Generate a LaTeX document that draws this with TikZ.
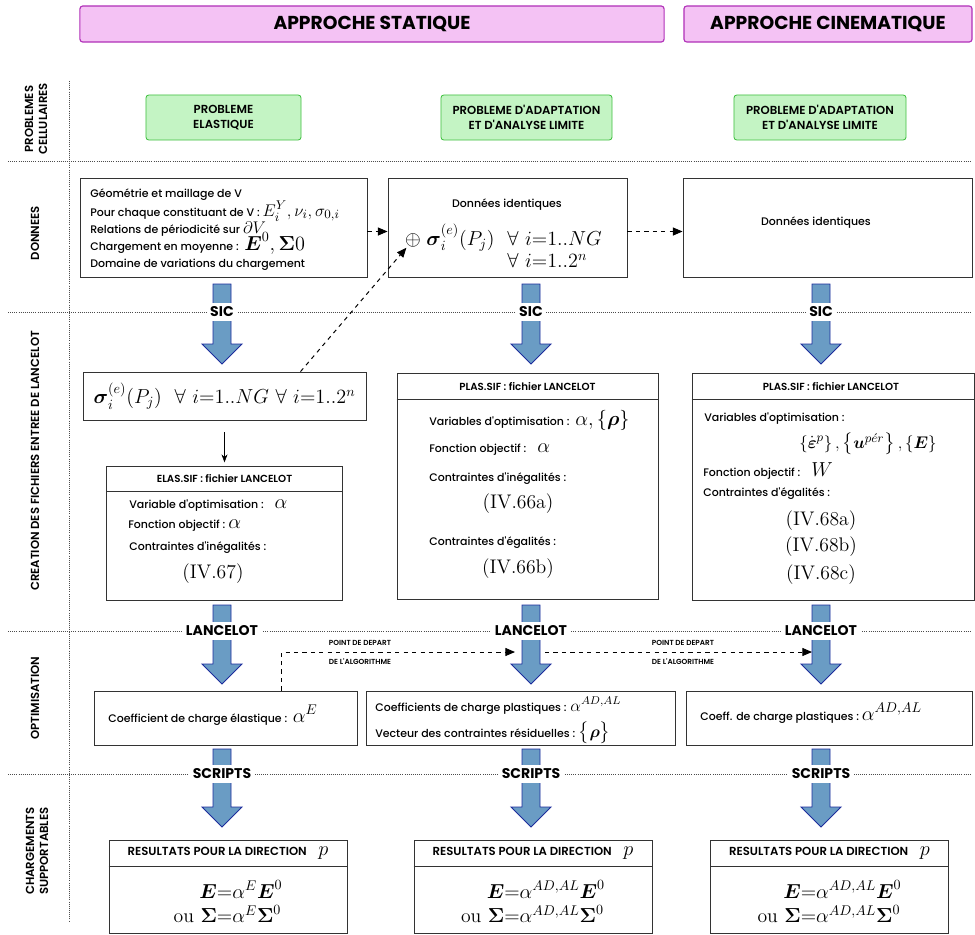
\documentclass[tikz,border=0pt]{standalone}
\usepackage{amsmath}
\usepackage{amssymb}
\usepackage[no-math]{fontspec}
\newfontfamily\gothic{Poppins}[UprightFont=* Medium, BoldFont=* SemiBold]
\newfontfamily\gothicgras{Poppins}[UprightFont=* Bold]
\usetikzlibrary{arrows.meta}

\definecolor{approchefill}{HTML}{F4C2F4}
\definecolor{approcheline}{HTML}{B030B8}
\definecolor{problemefill}{HTML}{C4F4C4}
\definecolor{problemeline}{HTML}{40C040}
\definecolor{flechefill}{HTML}{6A9CC4}
\definecolor{flecheline}{HTML}{1C2C9C}

\newcommand{\gm}[1]{{\fontsize{14}{16}\selectfont$#1$}}
\newcommand{\grossefleche}[3]{\draw[fleche] (#1-9,#2) -- (#1+9,#2) -- (#1+9,#3-20) -- (#1+20,#3-20) -- (#1,#3) -- (#1-20,#3-20) -- (#1-9,#3-20) -- cycle;}

\tikzset{
  approche/.style={draw=approcheline, fill=approchefill, line width=0.8pt, rounded corners=2pt, font=\gothicgras\fontsize{13.3}{15}\selectfont},
  probleme/.style={draw=problemeline, fill=problemefill, line width=0.6pt, rounded corners=2pt, align=center, font=\gothic\bfseries\fontsize{8.3}{11}\selectfont},
  rangee/.style={rotate=90, align=center, font=\gothic\bfseries\fontsize{8.3}{10}\selectfont},
  separe/.style={densely dotted, black!70, line width=0.5pt},
  cadre/.style={draw=black!80, line width=0.6pt},
  texte/.style={anchor=base west, inner sep=0pt, font=\gothic\fontsize{7.8}{9}\selectfont},
  centre/.style={texte, anchor=base},
  titre/.style={inner sep=0pt, font=\gothic\bfseries\fontsize{7.3}{9}\selectfont},
  formule/.style={inner sep=0pt, font=\fontsize{14}{16}\selectfont},
  fleche/.style={draw=flecheline, fill=flechefill, line width=0.6pt},
  etape/.style={fill=white, inner sep=2.5pt, font=\gothicgras\fontsize{10}{11}\selectfont},
  petit/.style={inner sep=0pt, font=\gothic\bfseries\fontsize{5.2}{6}\selectfont},
  pointille/.style={dashed, line width=0.7pt, -{Triangle[length=2.4mm,width=2mm]}},
}

\begin{document}
\begin{tikzpicture}[x=0.025cm, y=-0.025cm]
  \useasboundingbox (0,0) rectangle (975,935);

  % we draw the separators
  \draw[separe] (69,81) -- (69,922);
  \foreach \ys in {161,312,631,774}
    \draw[separe] (8,\ys) -- (970,\ys);

  % we draw the approach headers
  \node[approche, minimum width=14.6cm, minimum height=0.9cm] (statique) at (372,24) {APPROCHE STATIQUE};
  \node[approche, minimum width=7.2cm, minimum height=0.9cm] (cinematique) at (828,24) {APPROCHE CINEMATIQUE};

  % we label the rows
  \node[rangee] (rcell) at (36,119) {PROBLEMES\\CELLULAIRES};
  \node[rangee] (rdon) at (35,233) {DONNEES};
  \node[rangee] (rcrea) at (35,461) {CREATION DES FICHIERS ENTREE DE LANCELOT};
  \node[rangee] (ropt) at (35,698) {OPTIMISATION};
  \node[rangee] (rchar) at (37,851) {CHARGEMENTS\\SUPPORTABLES};

  % we draw the cell problems
  \node[probleme, minimum width=3.875cm, minimum height=1.125cm] (pelas) at (223.5,117.5) {PROBLEME\\ELASTIQUE};
  \node[probleme, minimum width=4.275cm, minimum height=1.125cm] (padapt) at (526.5,117.5) {PROBLEME D'ADAPTATION\\ET D'ANALYSE LIMITE};
  \node[probleme, minimum width=4.3cm, minimum height=1.125cm] (pcine) at (820,117.5) {PROBLEME D'ADAPTATION\\ET D'ANALYSE LIMITE};

  % we draw the data boxes
  \node[cadre, minimum width=7.175cm, minimum height=2.475cm] (don1) at (223.5,227.5) {};
  \node[texte] (d1a) at (90,197) {Géométrie et maillage de V};
  \node[texte] (d1b) at (90,216) {Pour chaque constituant de V : {\fontsize{12.5}{14}\selectfont$E_i^Y,\nu_i,\sigma_{0,i}$}};
  \node[texte] (d1c) at (90,233) {Relations de périodicité sur {\fontsize{13}{14}\selectfont$\partial V$}};
  \node[texte] (d1d) at (90,250) {Chargement en moyenne :\ \ \gm{\boldsymbol{E}^0,\boldsymbol{\Sigma}0}};
  \node[texte] (d1e) at (90,267) {Domaine de variations du chargement};

  \node[cadre, minimum width=5.975cm, minimum height=2.475cm] (don2) at (507.5,227.5) {};
  \node[centre] (d2a) at (507,207) {Données identiques};
  \node[inner sep=0.5pt] (plus) at (413,240) {\gm{\oplus}};
  \node[anchor=base west, inner sep=0pt] (d2b) at (426,245) {\gm{\boldsymbol{\sigma}_i^{(e)}(P_j)\ \ \begin{array}[t]{@{}l}\forall\ i{=}1..NG\\ \forall\ i{=}1..2^n\end{array}}};

  \node[cadre, minimum width=7.225cm, minimum height=2.475cm] (don3) at (827.5,227.5) {};
  \node[centre] (d3a) at (816,225) {Données identiques};

  \draw[pointille] ([yshift=-0.1cm]don1.east) -- ([yshift=-0.1cm]don2.west);
  \draw[pointille] ([yshift=-0.1cm]don2.east) -- ([yshift=-0.1cm]don3.west);

  % we draw the blue arrows
  \foreach \cx [count=\k] in {222,531,821} {
    \grossefleche{\cx}{284}{364}
    \grossefleche{\cx}{605}{684}
    \grossefleche{\cx}{749}{827}
    \node[etape] (sic\k) at (\cx,312) {SIC};
    \node[etape] (lan\k) at (\cx,631) {LANCELOT};
    \node[etape] (scr\k) at (\cx,774) {SCRIPTS};
  }

  % we draw the input files
  \node[cadre, minimum width=7.075cm, minimum height=1.2cm] (sigbox) at (224.5,396) {\gm{\boldsymbol{\sigma}_i^{(e)}(P_j)\ \ \forall\ i{=}1..NG\ \forall\ i{=}1..2^n}};

  \node[cadre, minimum width=5.9cm, minimum height=3.35cm] (elas) at (224.5,533) {};
  \draw[cadre] ([yshift=-0.65cm]elas.north west) -- ([yshift=-0.65cm]elas.north east);
  \node[titre] (elast) at (224.5,479) {ELAS.SIF : fichier LANCELOT};
  \node[texte] (e1) at (129,508) {Variable d'optimisation :\quad\gm{\alpha}};
  \node[texte] (e2) at (128,528) {Fonction objectif :\ \gm{\alpha}};
  \node[texte] (e3) at (129,550) {Contraintes d'inégalités :};
  \node[formule] (e4) at (213,574) {(IV.67)};

  \draw[-{Stealth[length=2mm]}, shorten <=0.3cm, shorten >=0.08cm] (sigbox) -- (elas);
  \draw[pointille] ([xshift=1.9cm]sigbox.north) -- (plus);

  \node[cadre, minimum width=6.525cm, minimum height=5.65cm] (plasA) at (527.5,486) {};
  \draw[cadre] ([yshift=-0.675cm]plasA.north west) -- ([yshift=-0.675cm]plasA.north east);
  \node[titre] (plasAt) at (527.5,387) {PLAS.SIF : fichier LANCELOT};
  \node[texte] (pa1) at (429,425) {Variables d'optimisation :\ \ \gm{\alpha,\{\boldsymbol{\rho}\}}};
  \node[texte] (pa2) at (429,452) {Fonction objectif :\quad\gm{\alpha}};
  \node[texte] (pa3) at (429,481) {Contraintes d'inégalités :};
  \node[formule] (pa4) at (518,504) {(IV.66a)};
  \node[texte] (pa5) at (429,545) {Contraintes d'égalités :};
  \node[formule] (pa6) at (518,569) {(IV.66b)};

  \node[cadre, minimum width=7.05cm, minimum height=5.675cm] (plasB) at (833,486.5) {};
  \draw[cadre] ([yshift=-0.675cm]plasB.north west) -- ([yshift=-0.675cm]plasB.north east);
  \node[titre] (plasBt) at (831,387) {PLAS.SIF : fichier LANCELOT};
  \node[texte] (pb1) at (704,421) {Variables d'optimisation :};
  \node[formule, font=\fontsize{13}{15}\selectfont] (pb2) at (868,444) {$\left\{\dot{\boldsymbol{\varepsilon}}^p\right\},\left\{\boldsymbol{u}^{p\acute{e}r}\right\},\{\boldsymbol{E}\}$};
  \node[texte] (pb3) at (703,476) {Fonction objectif :\quad\gm{W}};
  \node[texte] (pb4) at (703,496) {Contraintes d'égalités :};
  \node[formule] (pb5) at (821,521) {(IV.68a)};
  \node[formule] (pb6) at (821,547) {(IV.68b)};
  \node[formule] (pb7) at (821,575) {(IV.68c)};

  % we draw the optimisation results
  \node[cadre, minimum width=6.575cm, minimum height=1.35cm] (opt1) at (225.5,718) {};
  \node[texte] (o1) at (108,722) {Coefficient de charge élastique :\ \ \gm{\alpha^E}};
  \node[cadre, minimum width=7.725cm, minimum height=1.35cm] (opt2) at (520.5,718) {};
  \node[texte] (o2a) at (375,711) {Coefficients de charge plastiques : {\fontsize{12}{14}\selectfont$\alpha^{AD,AL}$}};
  \node[texte] (o2b) at (375,737) {Vecteur des contraintes résiduelles : {\fontsize{13}{15}\selectfont$\bigl\{\boldsymbol{\rho}\bigr\}$}};
  \node[cadre, minimum width=7.15cm, minimum height=1.35cm] (opt3) at (829,718) {};
  \node[texte] (o3) at (700,720) {Coeff. de charge plastiques :\ \gm{\alpha^{AD,AL}}};

  % we add the starting points of the algorithm
  \coordinate (dep1) at (515,652);
  \coordinate (dep2) at (545,652);
  \coordinate (dep3) at (812,652);
  \draw[pointille] ([xshift=1.41cm]opt1.north) |- (dep1);
  \draw[pointille] (dep2) -- (dep3);
  \node[petit] (pd1) at (360,643) {POINT DE DEPART};
  \node[petit] (al1) at (360,662) {DE L'ALGORITHME};
  \node[petit] (pd2) at (683,643) {POINT DE DEPART};
  \node[petit] (al2) at (683,662) {DE L'ALGORITHME};

  % we draw the supported loadings
  \foreach \cx/\nm/\expo in {228/res1/E, 533/res2/{AD,AL}, 829.5/res3/{AD,AL}} {
    \node[cadre, minimum width=5.95cm, minimum height=2.325cm] (\nm) at (\cx,886.5) {};
    \draw[cadre] ([yshift=-0.675cm]\nm.north west) -- ([yshift=-0.675cm]\nm.north east);
    \node[titre, font=\gothic\bfseries\fontsize{8.3}{10}\selectfont] (\nm t) at (\cx,853) {RESULTATS POUR LA DIRECTION\quad\gm{p}};
    \node[formule] (\nm f) at (\cx,905) {$\begin{array}{r@{}l}\boldsymbol{E}&{=}\alpha^{\expo}\boldsymbol{E}^0\\ \text{ou }\boldsymbol{\Sigma}&{=}\alpha^{\expo}\boldsymbol{\Sigma}^0\end{array}$};
  }
\end{tikzpicture}
\end{document}
